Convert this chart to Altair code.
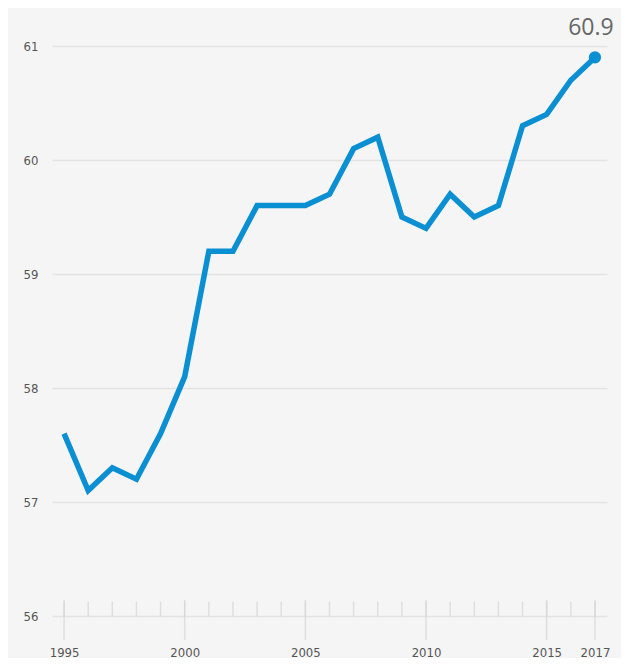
import altair as alt
import pandas as pd

years = list(range(1995, 2018))
values = [57.6, 57.1, 57.3, 57.2, 57.6, 58.1, 59.2, 59.2, 59.6, 59.6, 59.6, 59.7,
          60.1, 60.2, 59.5, 59.4, 59.7, 59.5, 59.6, 60.3, 60.4, 60.7, 60.9]
label_years = [1995, 2000, 2005, 2010, 2015, 2017]
y_ticks = [56, 57, 58, 59, 60, 61]

df = pd.DataFrame({"year": years, "value": values})
ticks_df = pd.DataFrame({"year": years, "base": [56] * len(years)})
major_df = pd.DataFrame({"year": label_years, "base": [56] * len(label_years)})
last_df = df.tail(1)

LINE = "#0a8fd2"
GRID = "#e3e3e3"
FONT = "Liberation Sans Narrow, DejaVu Sans Condensed, sans-serif"

xs = alt.Scale(domain=[1994.5, 2017.5], nice=False, zero=False)
ys = alt.Scale(domain=[56, 61], nice=False, zero=False)

x_axis = alt.Axis(values=label_years, format="d", grid=False, ticks=False, domain=False,
                  labelPadding=30, labelFontSize=13, labelColor="#555555", labelFont=FONT,
                  title=None)
y_axis = alt.Axis(values=y_ticks, format="d", grid=True, gridColor=GRID, gridWidth=1.5,
                  ticks=False, domain=False, labelPadding=14, labelFontSize=13,
                  labelColor="#555555", labelFont=FONT, title=None)

line = alt.Chart(df).mark_line(color=LINE, strokeWidth=5.5, strokeJoin="miter").encode(
    x=alt.X("year:Q", scale=xs, axis=x_axis),
    y=alt.Y("value:Q", scale=ys, axis=y_axis),
)

minor = alt.Chart(ticks_df).mark_tick(orient="vertical", color="#d6d6d6", size=15,
                                      thickness=1.5, yOffset=-7).encode(
    x=alt.X("year:Q", scale=xs), y=alt.Y("base:Q", scale=ys))

major = alt.Chart(major_df).mark_tick(orient="vertical", color="#d6d6d6", size=40,
                                      thickness=1.5, yOffset=4).encode(
    x=alt.X("year:Q", scale=xs), y=alt.Y("base:Q", scale=ys))

point = alt.Chart(last_df).mark_circle(color=LINE, size=150, opacity=1).encode(
    x=alt.X("year:Q", scale=xs), y=alt.Y("value:Q", scale=ys))

label = alt.Chart(last_df).mark_text(fontSize=23, color="#666666", baseline="alphabetic",
                                     align="center", dx=-4, dy=-22,
                                     font="Open Sans, sans-serif").encode(
    x=alt.X("year:Q", scale=xs), y=alt.Y("value:Q", scale=ys),
    text=alt.Text("value:Q", format=".1f"))

chart = alt.layer(minor, major, line, point, label).properties(
    width=555, height=570,
    autosize=alt.AutoSizeParams(type="none"),
    padding={"left": 44, "top": 38, "right": 14, "bottom": 42},
    background="#f5f5f5",
).configure_view(stroke=None)

chart.save("out.html", embed_options={"renderer": "svg", "actions": False})
